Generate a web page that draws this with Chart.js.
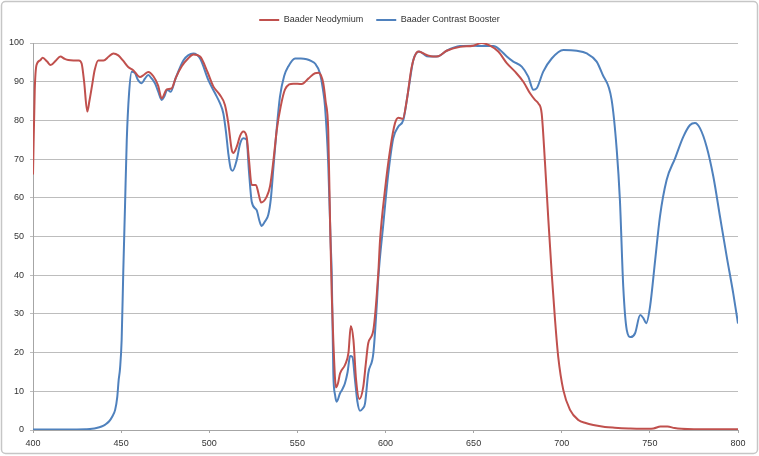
<!DOCTYPE html>
<html>
<head>
<meta charset="utf-8">
<script src="https://cdn.jsdelivr.net/npm/chart.js@4"></script>
<style>
  html, body { margin: 0; padding: 0; background: #fff; }
  #wrap { width: 759px; height: 456px; }
</style>
</head>
<body>
<div id="wrap"><canvas id="filterChart" width="759" height="456"></canvas></div>
<script>
// wavelength (nm) and transmission (%)
const neoNm = [400, 401, 402, 404, 405.5, 408, 410, 413, 415.5, 418, 420, 423, 426, 427.6, 429, 430.8, 432, 433.5, 435, 437,
  440, 443, 445.6, 448.4, 451, 454, 457, 460.7, 463, 465.4, 468.3, 471, 473, 475.9, 478.7, 481, 484.4, 488, 491, 494.8,
  499, 502.3, 506, 508.9, 510.8, 512.7, 513.6, 515.6, 517.5, 519.3, 521.2, 522.5, 524.1, 526.5, 528, 529.4, 532.6, 534.5, 536.5, 538.3,
  540.5, 543, 547.7, 552.5, 556.2, 560, 561.9, 563.5, 564.7, 566, 567.5, 568.5, 569.5, 570.4, 571.9, 573, 574.2, 577, 579, 580.3,
  581.8, 583.3, 585.2, 587.4, 588.8, 590.2, 593.1, 595.9, 596.9, 599.7, 602.6, 605.4, 607.3, 609.8, 612.1, 614.9, 618.6, 623.4,
  627, 630, 634.7, 642.3, 649.8, 654.6, 659.3, 664, 668.8, 673.5, 678.2, 682, 684.8, 686.7, 688.6, 690.5, 692.4, 694.3, 696.2, 698,
  700.9, 704.7, 709.4, 713.6, 717.9, 724.5, 730, 738, 745, 752, 756, 760, 764, 768, 775, 790, 800];
const neoValues = [66, 88, 94.3, 95.5, 96.2, 95.2, 94.3, 95.5, 96.5, 95.9, 95.6, 95.5, 95.5, 94.7, 90, 82.3, 85, 89, 93, 95.5,
  95.5, 96.5, 97.3, 96.8, 95.5, 93.8, 92.9, 91.2, 91.8, 92.5, 91.4, 89, 85.7, 88, 88.3, 91, 94, 96, 97, 96.5,
  92.5, 88.8, 86.6, 84, 79.3, 72.5, 71.6, 73.2, 76, 77.1, 75.8, 70, 63.3, 63.3, 61, 58.8, 60.3, 63, 70, 77.5,
  83.5, 88, 89.5, 89.4, 90.8, 92.2, 92.3, 91.5, 89.6, 85, 77.5, 55, 35, 23, 11, 12, 14.6, 16.8, 20, 26.9,
  23.3, 13, 8, 11.2, 17, 22.4, 25.8, 40.5, 49, 62, 72.4, 79.3, 80.7, 80.4, 85.3, 93.9, 97.8, 96.9,
  96.5, 96.6, 98, 99, 99.3, 100, 99.3, 97.8, 94.8, 92.6, 90, 87, 85.3, 84.4, 81.8, 69, 54.3, 40.5, 28.4, 18.9,
  10.3, 5.2, 2.6, 1.8, 1.3, 0.8, 0.6, 0.4, 0.3, 0.4, 0.9, 0.9, 0.5, 0.3, 0.2, 0.2, 0.2];

const boosterNm = [400, 420, 430, 433.5, 436, 438.9, 441, 443.1, 445, 446.6, 447.8, 448.6, 449.4, 450.3, 451.2, 452.2, 453.2, 454.5, 456, 457.9,
  459.5, 461.7, 463.5, 465.4, 467, 469.2, 471, 473, 474.5, 476.2, 478.1, 481, 485.3, 488, 491, 494.8, 499.5, 503.3, 506, 508,
  509.5, 510.8, 512.2, 513.3, 515.6, 517.5, 519.3, 521.2, 522.5, 524.1, 526.9, 528.5, 529.7, 531.5, 533.5, 535, 536.3, 538.3, 540.1, 542.5,
  544.8, 548.7, 552, 555.3, 558, 560, 562.8, 564.5, 565.7, 567.5, 568.9, 569.5, 570.4, 571.4, 572.3, 574.2, 575.5, 577, 578.5, 579.9,
  581.2, 582.7, 584, 585.5, 587, 588.4, 590.2, 593.1, 595, 595.9, 598.8, 601.6, 604.4, 607.3, 610.1, 613, 615.8, 619.2, 623.4, 627,
  630, 634.7, 642.3, 650, 655, 661.2, 665, 668.8, 672.5, 677.3, 681, 683.9, 685.8, 689.5, 694.3, 700.9, 708.5, 714.2, 719.8, 723,
  728.3, 731.2, 733, 734.9, 736.9, 739.1, 741.6, 744.5, 746.3, 747.9, 750.1, 753, 755.7, 759.5, 764.3, 769, 772.8, 775.6, 778.4, 782.2,
  786, 789.8, 793.6, 797.3, 800];
const boosterValues = [0.1, 0.1, 0.2, 0.3, 0.5, 0.9, 1.4, 2.2, 3.5, 5.2, 8.5, 12.9, 16, 23.3, 40.5, 57.7, 74.9, 87, 92.6, 92.2,
  90.5, 89.6, 90.8, 91.7, 91, 89.6, 87.5, 85.3, 86.2, 87.9, 87.4, 91, 95.5, 96.8, 97.3, 96, 90.4, 87, 84.5, 81.8,
  77, 71.5, 67.5, 67, 69.8, 74, 75.4, 75, 67, 59, 56.8, 54, 52.7, 53.8, 55.6, 60, 67.2, 78, 86.1, 91.5,
  93.9, 96, 96, 95.8, 95.3, 94.7, 92.2, 88, 83.5, 68.9, 48.2, 40.5, 14.6, 9, 7.3, 9.5, 10.5, 12.1, 15, 19.1,
  18.9, 12.9, 7.5, 5, 5.5, 6.9, 14.6, 19.8, 31.9, 39.2, 53.4, 66.3, 75.4, 78.4, 80.1, 87.9, 95.6, 97.8, 96.6, 96.5,
  96.6, 98, 99.2, 99.3, 99.2, 99.2, 98.2, 96.5, 95.2, 93.9, 91.3, 87.9, 88.3, 92.6, 96, 98.2, 98, 97.3, 95.2, 92,
  85.3, 72.4, 59.4, 37, 25.8, 24, 25, 29.7, 28.9, 27.6, 31.9, 43.9, 55.1, 64.6, 70.2, 75.8, 78.8, 79.3, 78, 73.2,
  65.5, 55.1, 44.8, 35.3, 27.5];

const xTicks = [400, 450, 500, 550, 600, 650, 700, 750, 800];
const yTicks = [0, 10, 20, 30, 40, 50, 60, 70, 80, 90, 100];

function toPoints(xs, ys) {
  return xs.map(function (x, i) { return { x: x, y: ys[i] }; });
}

// rounded grey frame round the whole chart, like the spreadsheet chart area
const frame = {
  id: 'frame',
  beforeDraw: function (chart) {
    const c = chart.ctx;
    c.save();
    c.fillStyle = '#ffffff';
    c.fillRect(0, 0, chart.width, chart.height);
    c.strokeStyle = '#c6c6c6';
    c.lineWidth = 1.5;
    c.beginPath();
    c.roundRect(1.5, 1.5, chart.width - 3, chart.height - 4, 4);
    c.stroke();
    c.restore();
  }
};

// empty layout box, used for a gap under the legend and a margin on the right
function spacer(position, weight, size, fullSize) {
  return {
    position: position,
    weight: weight,
    fullSize: fullSize,
    options: {},
    top: 0, left: 0, right: 0, bottom: 0, width: 0, height: 0,
    isHorizontal: function () { return position === 'top' || position === 'bottom'; },
    update: function (maxWidth, maxHeight) {
      if (this.isHorizontal()) { this.width = maxWidth; this.height = size; }
      else { this.width = size; this.height = maxHeight; }
    },
    draw: function () {}
  };
}

const gaps = {
  id: 'gaps',
  beforeInit: function (chart) {
    Chart.layouts.addBox(chart, spacer('top', 500, 8.5, true));
    Chart.layouts.addBox(chart, spacer('right', 500, 21, false));
  }
};

document.addEventListener('DOMContentLoaded', function () {
  const ctx = document.getElementById('filterChart').getContext('2d');
  const filterChart = new Chart(ctx, {
    type: 'line',
    data: {
      datasets: [{
        label: 'Baader Neodymium',
        data: toPoints(neoNm, neoValues),
        borderColor: '#c0504d',
        backgroundColor: '#c0504d',
        borderWidth: 2,
        pointRadius: 0,
        pointStyle: 'line',
        cubicInterpolationMode: 'monotone'
      }, {
        label: 'Baader Contrast Booster',
        data: toPoints(boosterNm, boosterValues),
        borderColor: '#4f81bd',
        backgroundColor: '#4f81bd',
        borderWidth: 2,
        pointRadius: 0,
        pointStyle: 'line',
        cubicInterpolationMode: 'monotone'
      }]
    },
    options: {
      responsive: false,
      animation: false,
      layout: {
        padding: { left: 0, right: 0, top: 2.5, bottom: 0 }
      },
      plugins: {
        legend: {
          position: 'top',
          labels: {
            usePointStyle: true,
            pointStyleWidth: 20,
            boxHeight: 2,
            padding: 13,
            color: '#333333',
            font: { family: 'Liberation Sans', size: 9 }
          }
        },
        tooltip: { enabled: false }
      },
      scales: {
        x: {
          type: 'linear',
          min: 400,
          max: 800,
          afterBuildTicks: function (scale) {
            scale.ticks = xTicks.map(function (v) { return { value: v }; });
          },
          afterFit: function (scale) { scale.height = 26; },
          grid: { drawOnChartArea: false, tickLength: 3, color: '#a6a6a6' },
          border: { color: '#a6a6a6' },
          ticks: {
            maxRotation: 0,
            padding: 5,
            color: '#333333',
            font: { family: 'Liberation Sans', size: 9 }
          }
        },
        y: {
          min: 0,
          max: 100,
          afterBuildTicks: function (scale) {
            scale.ticks = yTicks.map(function (v) { return { value: v }; });
          },
          afterFit: function (scale) { scale.width = 33; },
          grid: { color: '#bdbdbd', tickLength: 3 },
          border: { color: '#a6a6a6' },
          ticks: {
            padding: 6,
            color: '#333333',
            font: { family: 'Liberation Sans', size: 9 }
          }
        }
      }
    },
    plugins: [frame, gaps]
  });
});
</script>
</body>
</html>
